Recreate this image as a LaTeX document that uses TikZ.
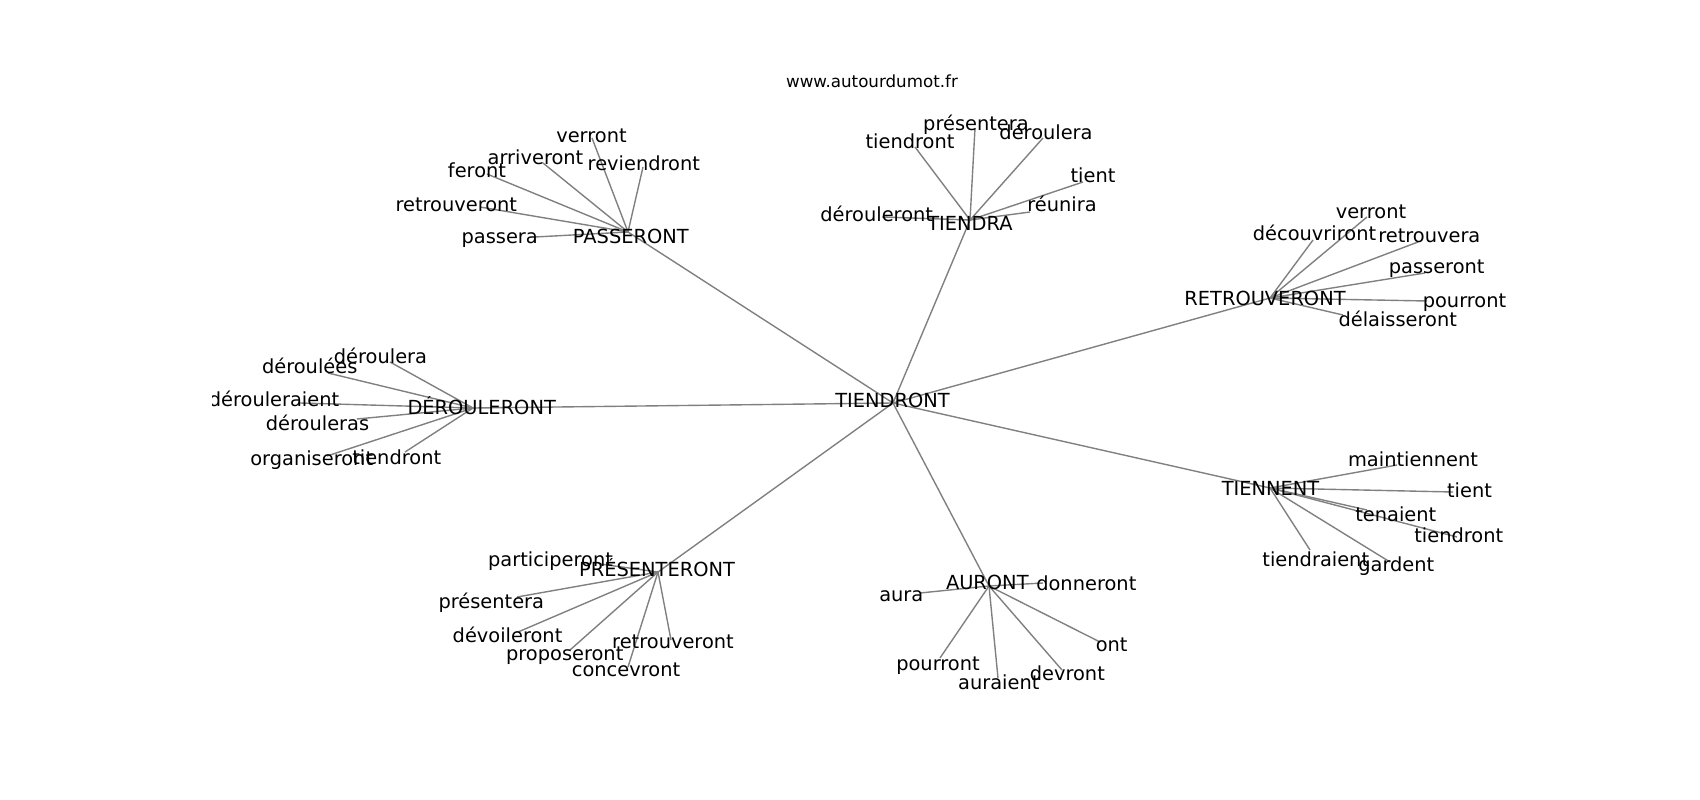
\documentclass[tikz,border=0pt]{standalone}
\usepackage{fontspec}
\setmainfont{DejaVu Sans}
\newcommand\lblfont{\fontsize{19.4}{23}\selectfont}
\newcommand\ttlfont{\fontsize{16.7}{20}\selectfont}
\begin{document}
\begin{tikzpicture}[x=1pt,y=-1pt,
  edge/.style={draw=gray, line width=1.39pt},
  lbl/.style={font=\lblfont, anchor=base, inner sep=0pt, text=black},
  ttl/.style={font=\ttlfont, anchor=base, inner sep=0pt, text=black}]
\fill[white] (0,0) rectangle (1700,800);
\useasboundingbox (0,0) rectangle (1700,800);
% ---- graph points ----
\coordinate (c) at (893,403);
\coordinate (p) at (628,232);
\coordinate (t) at (970,220);
\coordinate (r) at (1270,298);
\coordinate (d) at (473,408);
\coordinate (n) at (1270,488);
\coordinate (s) at (658,572);
\coordinate (a) at (989,586);
% PASSERONT leaves
\coordinate (p1) at (592,138);
\coordinate (p2) at (543,163);
\coordinate (p3) at (643,167);
\coordinate (p4) at (487,174);
\coordinate (p5) at (480,207);
\coordinate (p6) at (535,237);
% TIENDRA leaves
\coordinate (t1) at (915,147);
\coordinate (t2) at (975,128);
\coordinate (t3) at (1043,138);
\coordinate (t4) at (1083,182);
\coordinate (t5) at (1030,212);
\coordinate (t6) at (882,217);
% RETROUVERONT leaves
\coordinate (r1) at (1367,217);
\coordinate (r2) at (1313,240);
\coordinate (r3) at (1418,242);
\coordinate (r4) at (1425,273);
\coordinate (r5) at (1427,301);
\coordinate (r6) at (1343,315);
% DEROULERONT leaves
\coordinate (d1) at (390,362);
\coordinate (d2) at (328,373);
\coordinate (d3) at (300,403);
\coordinate (d4) at (357,419);
\coordinate (d5) at (327,456);
\coordinate (d6) at (405,452);
% TIENNENT leaves
\coordinate (n1) at (1397,465);
\coordinate (n2) at (1453,492);
\coordinate (n3) at (1367,510);
\coordinate (n4) at (1457,537);
\coordinate (n5) at (1310,550);
\coordinate (n6) at (1390,562);
% PRESENTERONT leaves
\coordinate (s1) at (600,564);
\coordinate (s2) at (517,597);
\coordinate (s3) at (518,632);
\coordinate (s4) at (570,650);
\coordinate (s5) at (671,640);
\coordinate (s6) at (628,667);
% AURONT leaves
\coordinate (a1) at (920,593);
\coordinate (a2) at (1043,583);
\coordinate (a3) at (1100,642);
\coordinate (a4) at (940,658);
\coordinate (a5) at (998,678);
\coordinate (a6) at (1062,670);
% ---- edges ----
\foreach \h in {p,t,r,d,n,s,a} {\draw[edge] (c) -- (\h);}
\foreach \h in {p,t,r,d,n,s,a} {
  \foreach \i in {1,...,6} {\draw[edge] (\h) -- (\h\i);}
}
% ---- labels ----
\begin{scope}
\clip (212.5,96) rectangle (1530,712);
\node[lbl] (lc) at (892.5,407.3) {TIENDRONT};
\node[lbl] (lp) at (630.8,243) {PASSERONT};
\node[lbl] (lt) at (970,230) {TIENDRA};
\node[lbl] (lr) at (1265,305) {RETROUVERONT};
\node[lbl] (ld) at (481.7,414.3) {DÉROULERONT};
\node[lbl] (ln) at (1270.5,495) {TIENNENT};
\node[lbl] (ls) at (657,576) {PRÉSENTERONT};
\node[lbl] (la) at (987.3,589.3) {AURONT};
% PASSERONT
\node[lbl] (lp1) at (591.5,142.5) {verront};
\node[lbl] (lp2) at (535.5,164.5) {arriveront};
\node[lbl] (lp3) at (643.8,170) {reviendront};
\node[lbl] (lp4) at (477,177) {feront};
\node[lbl] (lp5) at (456.3,211.5) {retrouveront};
\node[lbl] (lp6) at (499.7,243) {passera};
% TIENDRA
\node[lbl] (lt1) at (910,148.3) {tiendront};
\node[lbl] (lt2) at (976,130.7) {présentera};
\node[lbl] (lt3) at (1046,139.3) {déroulera};
\node[lbl] (lt4) at (1093,182.3) {tient};
\node[lbl] (lt5) at (1062,211.7) {réunira};
\node[lbl] (lt6) at (876.7,221.7) {dérouleront};
% RETROUVERONT
\node[lbl] (lr1) at (1371,218.3) {verront};
\node[lbl] (lr2) at (1314.5,240) {découvriront};
\node[lbl] (lr3) at (1429.3,242.3) {retrouvera};
\node[lbl] (lr4) at (1436.7,273.3) {passeront};
\node[lbl] (lr5) at (1464.5,307.3) {pourront};
\node[lbl] (lr6) at (1397.7,326.7) {délaisseront};
% DEROULERONT
\node[lbl] (ld1) at (380.5,363.3) {déroulera};
\node[lbl] (ld2) at (309.7,373.3) {déroulées};
\node[lbl] (ld3) at (274,406) {dérouleraient};
\node[lbl] (ld4) at (317.5,430) {dérouleras};
\node[lbl] (ld5) at (311.7,465) {organiseront};
\node[lbl] (ld6) at (396.7,464) {tiendront};
% TIENNENT
\node[lbl] (ln1) at (1413,466) {maintiennent};
\node[lbl] (ln2) at (1469.5,497.7) {tient};
\node[lbl] (ln3) at (1395.8,521.7) {tenaient};
\node[lbl] (ln4) at (1458.8,542.7) {tiendront};
\node[lbl] (ln5) at (1315.8,566) {tiendraient};
\node[lbl] (ln6) at (1396.3,571.7) {gardent};
% PRESENTERONT
\node[lbl] (ls1) at (550.5,566.7) {participeront};
\node[lbl] (ls2) at (491.3,608.3) {présentera};
\node[lbl] (ls3) at (507.5,642.7) {dévoileront};
\node[lbl] (ls4) at (564.7,660) {proposeront};
\node[lbl] (ls5) at (673,648.3) {retrouveront};
\node[lbl] (ls6) at (626,676.7) {concevront};
% AURONT
\node[lbl] (la1) at (901.3,601.7) {aura};
\node[lbl] (la2) at (1086.3,590.7) {donneront};
\node[lbl] (la3) at (1111.7,651.7) {ont};
\node[lbl] (la4) at (938,670.7) {pourront};
\node[lbl] (la5) at (998.8,689.3) {auraient};
\node[lbl] (la6) at (1067.3,680) {devront};
\end{scope}
\node[ttl] (title) at (872,87.7) {www.autourdumot.fr};
\end{tikzpicture}
\end{document}
